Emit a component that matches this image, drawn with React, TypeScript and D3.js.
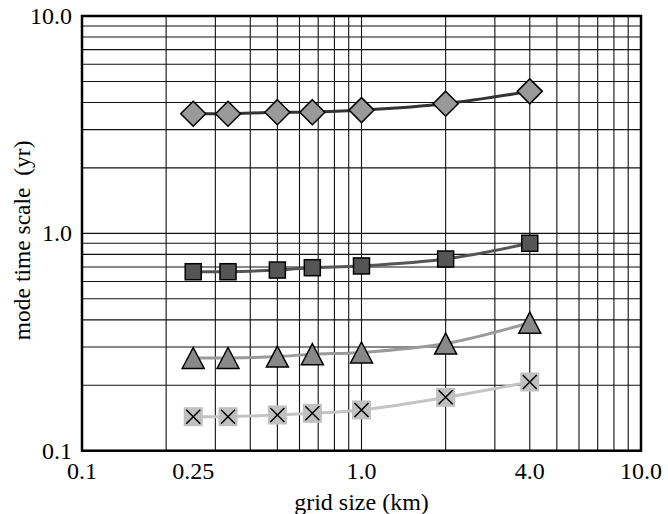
import React from "react";
import * as d3 from "d3";

const gridSizes = [0.25, 0.333, 0.5, 0.667, 1.0, 2.0, 4.0];
const diamondSeries = [3.55, 3.55, 3.61, 3.61, 3.69, 3.95, 4.5];
const squareSeries = [0.666, 0.666, 0.678, 0.695, 0.708, 0.762, 0.9];
const triangleSeries = [0.267, 0.267, 0.271, 0.278, 0.283, 0.311, 0.388];
const crossSeries = [0.1434, 0.1434, 0.146, 0.1486, 0.154, 0.176, 0.207];
const xTickValues = [0.1, 0.25, 1.0, 4.0, 10.0];
const xTickLabels = ["0.1", "0.25", "1.0", "4.0", "10.0"];
const yTickValues = [0.1, 1.0, 10.0];
const yTickLabels = ["0.1", "1.0", "10.0"];

const W = 668, H = 514;
const L = 82, R = 641, T = 16, B = 450.7;
const FONT = "Liberation Serif, serif";

export default function App() {
  const x = d3.scaleLog().domain([0.1, 10]).range([L, R]);
  const y = d3.scaleLog().domain([0.1, 10]).range([B, T]);
  const gridVals: number[] = [];
  for (const dec of [0.1, 1]) for (let k = 1; k <= 9; k++) gridVals.push(dec * k);
  gridVals.push(10);
  const line = (vals: number[]) =>
    d3.line<number>().x((_, i) => x(gridSizes[i])).y((v) => y(v)).curve(d3.curveCatmullRom.alpha(0.5))(vals) || "";

  const diamond = (cx: number, cy: number, r: number) =>
    `M${cx},${cy - r}L${cx + r},${cy}L${cx},${cy + r}L${cx - r},${cy}Z`;
  const tri = (cx: number, cy: number, w: number, h: number) =>
    `M${cx},${cy - h / 2}L${cx + w / 2},${cy + h / 2}L${cx - w / 2},${cy + h / 2}Z`;

  return (
    <svg width={W} height={H} style={{ position: "absolute", left: 0, top: 0 }}>
      <rect x={0} y={0} width={W} height={H} fill="#fff" />
      <g>
        {gridVals.map((v, i) => (
          <line key={"gx" + i} x1={x(v)} x2={x(v)} y1={T} y2={B} stroke="#111" strokeWidth={1.1} />
        ))}
        {gridVals.map((v, i) => (
          <line key={"gy" + i} x1={L} x2={R} y1={y(v)} y2={y(v)} stroke="#111" strokeWidth={1.1} />
        ))}
      </g>
      <path d={line(diamondSeries)} fill="none" stroke="#333" strokeWidth={3} />
      <path d={line(squareSeries)} fill="none" stroke="#555" strokeWidth={3} />
      <path d={line(triangleSeries)} fill="none" stroke="#9a9a9a" strokeWidth={3} />
      <path d={line(crossSeries)} fill="none" stroke="#c4c4c4" strokeWidth={3} />
      {diamondSeries.map((v, i) => (
        <path key={"d" + i} d={diamond(x(gridSizes[i]), y(v), 12.5)} fill="#999" stroke="#000" strokeWidth={1.5} />
      ))}
      {squareSeries.map((v, i) => (
        <rect key={"s" + i} x={x(gridSizes[i]) - 8} y={y(v) - 8} width={16} height={16} fill="#555" stroke="#000" strokeWidth={1.5} />
      ))}
      {triangleSeries.map((v, i) => (
        <path key={"t" + i} d={tri(x(gridSizes[i]), y(v), 22, 21)} fill="#888" stroke="#000" strokeWidth={1.5} />
      ))}
      {crossSeries.map((v, i) => {
        const cx = x(gridSizes[i]), cy = y(v);
        return (
          <g key={"c" + i}>
            <rect x={cx - 9.5} y={cy - 9.5} width={19} height={19} fill="#c0c0c0" />
            <path d={`M${cx - 7},${cy - 7}L${cx + 7},${cy + 7}M${cx + 7},${cy - 7}L${cx - 7},${cy + 7}`} stroke="#000" strokeWidth={1.5} />
          </g>
        );
      })}
      <rect x={L} y={T} width={R - L} height={B - T} fill="none" stroke="#000" strokeWidth={2.5} />
      {yTickValues.map((v, i) => (
        <text key={"yl" + i} x={72} y={y(v)} textAnchor="end" dominantBaseline="central" fontFamily={FONT} fontSize={24} fill="#000">
          {yTickLabels[i]}
        </text>
      ))}
      {xTickValues.map((v, i) => (
        <text key={"xl" + i} x={x(v)} y={471} textAnchor="middle" dominantBaseline="central" fontFamily={FONT} fontSize={24} fill="#000">
          {xTickLabels[i]}
        </text>
      ))}
      <text x={(L + R) / 2} y={502} textAnchor="middle" dominantBaseline="central" fontFamily={FONT} fontSize={24} fill="#000">
        grid size (km)
      </text>
      <text transform={`translate(22,${(T + B) / 2 + 7}) rotate(-90)`} textAnchor="middle" dominantBaseline="central" fontFamily={FONT} fontSize={23.5} fill="#000" style={{ whiteSpace: "pre" }}>
        {"mode time scale  (yr)"}
      </text>
    </svg>
  );
}
